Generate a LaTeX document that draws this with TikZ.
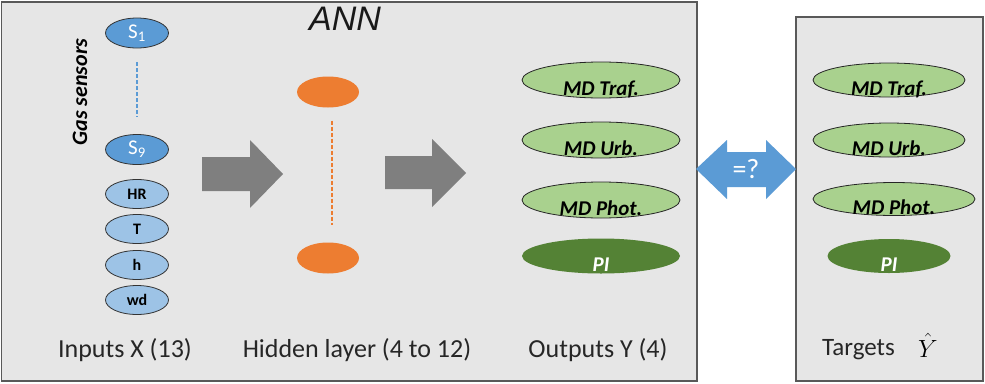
\documentclass[tikz,border=0pt]{standalone}
\usepackage{fontspec}
\setmainfont{Carlito}
\newfontfamily\arialfont{Liberation Sans}
\usetikzlibrary{shapes.geometric,calc}
\definecolor{panel}{HTML}{E6E6E6}
\definecolor{panelborder}{HTML}{595959}
\definecolor{sensorblue}{HTML}{5B9BD5}
\definecolor{lightblue}{HTML}{9DC3E6}
\definecolor{hidorange}{HTML}{ED7D31}
\definecolor{lightgreen}{HTML}{A9D18E}
\definecolor{darkgreen}{HTML}{548235}
\definecolor{arrowgray}{HTML}{7F7F7F}
\newcommand{\fs}[1]{\fontsize{#1}{#1}\selectfont}
\newcommand{\low}[1]{\raisebox{-15pt}[0pt][0pt]{#1}}
\tikzset{
  panelbox/.style={draw=panelborder, fill=panel, line width=1.2pt},
  sensor/.style={ellipse, draw=black!80, fill=sensorblue, line width=0.8pt, minimum width=63pt, minimum height=30pt, inner sep=0pt, text=white, font=\fs{21}},
  meteo/.style={ellipse, draw=black!80, fill=lightblue, line width=0.8pt, minimum width=63pt, minimum height=29pt, inner sep=0pt, font=\fs{16}\bfseries},
  hidden/.style={ellipse, fill=hidorange, minimum width=62pt, minimum height=31pt, inner sep=0pt},
  outmd/.style={ellipse, draw=black!85, fill=lightgreen, line width=0.8pt, inner sep=0pt, minimum height=36pt, font=\fs{21}\bfseries\itshape},
  outpi/.style={ellipse, fill=darkgreen, inner sep=0pt, minimum height=35pt, text=white, font=\fs{21}\bfseries\itshape},
  caption/.style={font=\fs{26}, text=black!85, anchor=base},
  blockarrow/.style={fill=arrowgray},
}
\begin{document}
\begin{tikzpicture}[x=1pt,y=-1pt]
\useasboundingbox (0,0) rectangle (985,383);
\fill[white] (0,0) rectangle (985,383);
% panels
\draw[panelbox] (1.5,2) rectangle (697,381);
\draw[panelbox] (796,17) rectangle (983,381);
% title
\node[font=\fs{34}\arialfont\itshape, text=black!90, anchor=base] (title) at (345,30) {ANN};
% inputs
\node[sensor] (s1) at (137,33) {S\textsubscript{1}};
\node[sensor] (s9) at (137,149.5) {S\textsubscript{9}};
\draw[sensorblue, line width=1.3pt, dash pattern=on 4pt off 2pt] ($(s1.south)+(0,14)$) coordinate (d1) -- ($(s9.north)+(0,-17)$) coordinate (d2);
\node[meteo] (hr) at (137,194) {HR};
\node[meteo] (t) at (137,229) {T};
\node[meteo] (h) at (137,265) {h};
\node[meteo] (wd) at (137,300) {wd};
\node[rotate=90, font=\fs{22}\bfseries\itshape] (gas) at (80,92) {Gas sensors};
% arrows
\fill[blockarrow] (202,157) -- (250,157) -- (250,140) -- (283,174) -- (250,208) -- (250,191) -- (202,191) -- cycle;
\fill[blockarrow] (385,156) -- (432,156) -- (432,139) -- (466,173) -- (432,207) -- (432,189) -- (385,189) -- cycle;
% hidden
\node[hidden] (h1) at (328,92) {};
\node[hidden] (h2) at (328,258) {};
\draw[hidorange, line width=1.3pt, dash pattern=on 4pt off 2pt] ($(h1.south)+(4,13)$) coordinate (e1) -- ($(h2.north)+(4,-17)$) coordinate (e2);
% outputs
\node[outmd, minimum width=158pt] (o1) at (601,80) {\low{MD Traf.}};
\node[outmd, minimum width=158pt] (o2) at (601,140) {\low{MD Urb.}};
\node[outmd, minimum width=158pt] (o3) at (601,200) {\low{MD Phot.}};
\node[outpi, minimum width=158pt] (o4) at (601,256) {\low{PI}};
% double arrow
\fill[sensorblue] (696,169) -- (727,140) -- (727,152) -- (766,152) -- (766,140) -- (796,169) -- (766,199) -- (766,187) -- (727,187) -- (727,199) -- cycle;
\node[font=\fs{28}, text=white] (eq) at (746,169) {=?};
% targets
\node[outmd, minimum width=152pt, minimum height=34pt] (t1) at (889,80) {\low{MD Traf.}};
\node[outmd, minimum width=152pt, minimum height=34pt] (t2) at (889,140) {\low{MD Urb.}};
\node[outmd, minimum width=162pt, minimum height=33pt] (t3) at (894,199) {\low{MD Phot.}};
\node[outpi, minimum width=123pt, minimum height=34pt] (t4) at (889,256) {\low{PI}};
% captions
\node[caption] (cin) at (125,357) {Inputs X (13)};
\node[caption] (chid) at (357,357) {Hidden layer (4 to 12)};
\node[caption] (cout) at (598,357) {Outputs Y (4)};
\node[caption, font=\fs{25}, anchor=base west, inner sep=0pt] (ctg) at (822,355) {Targets};
\node[font=\fs{28}, anchor=base, inner sep=0pt] (yhat) at (928,357) {$\hat{Y}$};
\end{tikzpicture}
\end{document}
